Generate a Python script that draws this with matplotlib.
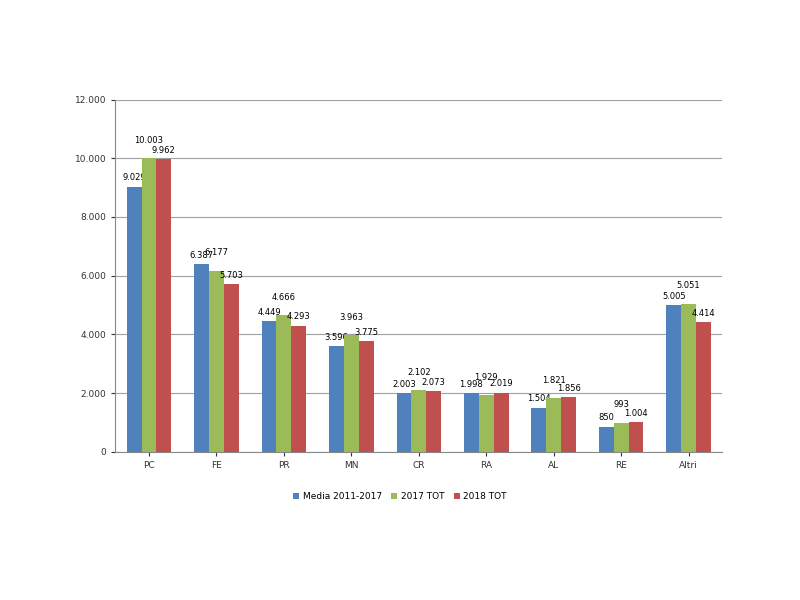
import matplotlib
matplotlib.use("Agg")
import matplotlib.pyplot as plt
import numpy as np

categories = ["PC", "FE", "PR", "MN", "CR", "RA", "AL", "RE", "Altri"]
media = [9029, 6387, 4449, 3596, 2003, 1998, 1504, 850, 5005]
tot2017 = [10003, 6177, 4666, 3963, 2102, 1929, 1821, 993, 5051]
tot2018 = [9962, 5703, 4293, 3775, 2073, 2019, 1856, 1004, 4414]
series_names = ["Media 2011-2017", "2017 TOT", "2018 TOT"]
colors = ["#4F81BD", "#9BBB59", "#C0504D"]


def fmt(v):
    return f"{v:,.0f}".replace(",", ".")


fig = plt.figure(figsize=(8, 6), dpi=100)
ax = fig.add_axes([0.144, 0.247, 0.759, 0.587])
x = np.arange(len(categories))
w = 0.22
# label offsets per series so the three labels of a group stagger a little
offsets = [150, 450, 150]
for i, (vals, name, c) in enumerate(zip([media, tot2017, tot2018], series_names, colors)):
    xs = x + (i - 1) * w
    ax.bar(xs, vals, w, color=c, label=name, zorder=3)
    for xx, v in zip(xs, vals):
        ax.text(xx, v + offsets[i], fmt(v), ha="center", va="bottom", fontsize=6)

ax.set_xlim(-0.5, len(categories) - 0.5)
ax.set_ylim(0, 12000)
ax.set_yticks(range(0, 12001, 2000))
ax.set_yticklabels([fmt(v) for v in range(0, 12001, 2000)], fontsize=6.5)
ax.set_xticks(x)
ax.set_xticklabels(categories, fontsize=6.5)
ax.grid(axis="y", color="#A0A0A0", linewidth=0.8, zorder=0)
for s in ["top", "right"]:
    ax.spines[s].set_visible(False)
ax.spines["left"].set_color("#888888")
ax.spines["bottom"].set_color("#888888")
ax.tick_params(length=3, colors="#333333")

fig.legend(loc="center", bbox_to_anchor=(0.5, 0.172), ncol=3, frameon=False,
           fontsize=6.5, handlelength=0.7, handleheight=0.7, columnspacing=1.0, handletextpad=0.4)
fig.savefig("out.png", dpi=100)
